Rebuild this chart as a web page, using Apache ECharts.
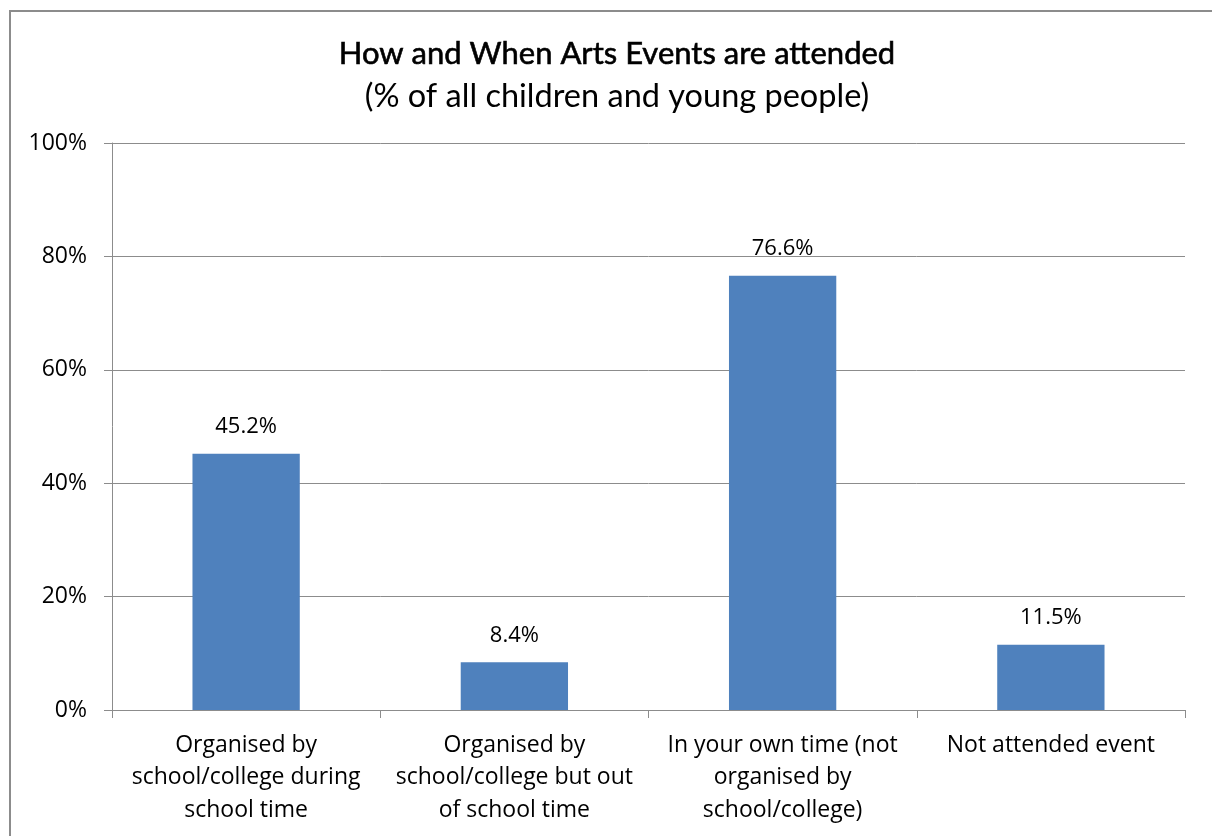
<!DOCTYPE html>
<html>
<head>
<meta charset="utf-8">
<script src="https://cdn.jsdelivr.net/npm/echarts@6/dist/echarts.min.js"></script>
<style>
  html, body { margin: 0; padding: 0; background: #fff; }
  #chart { width: 1212px; height: 836px; }
</style>
</head>
<body>
<div id="chart"></div>
<script>
// Attendance of arts events, % of all children and young people
const categories = [
  'Organised by\nschool/college during\nschool time',
  'Organised by\nschool/college but out\nof school time',
  'In your own time (not\norganised by\nschool/college)',
  'Not attended event'
];
const attendedPct = [45.2, 8.4, 76.6, 11.5];
const yTicks = [0, 20, 40, 60, 80, 100];

const chart = echarts.init(document.getElementById('chart'), null, { renderer: 'canvas' });

chart.setOption({
  backgroundColor: '#ffffff',
  animation: false,
  graphic: [{
    type: 'rect',
    shape: { x: 10, y: 11, width: 1212, height: 840 },
    style: { fill: 'none', stroke: '#8c8c8c', lineWidth: 2 },
    silent: true
  }],
  title: [{
    text: 'How and When Arts Events are attended',
    left: 612,
    textAlign: 'center',
    top: 32,
    textStyle: { fontFamily: 'Lato', fontSize: 31, fontWeight: 'normal', color: '#000', lineHeight: 34,
      textBorderColor: '#000', textBorderWidth: 0.6 }
  }, {
    text: '(% of all children and young people)',
    left: 612,
    textAlign: 'center',
    top: 75,
    textStyle: { fontFamily: 'Lato', fontSize: 32.5, fontWeight: 'normal', color: '#000', lineHeight: 34 }
  }],
  grid: { left: 112, right: 27, top: 143, bottom: 126, containLabel: false },
  xAxis: {
    type: 'category',
    data: categories,
    axisLine: { lineStyle: { color: '#8c8c8c', width: 1 } },
    axisTick: { show: true, length: 8, alignWithLabel: false, lineStyle: { color: '#8c8c8c' } },
    axisLabel: {
      interval: 0,
      margin: 19,
      fontFamily: 'Open Sans',
      fontSize: 23,
      lineHeight: 32.5,
      color: '#000'
    }
  },
  yAxis: {
    type: 'value',
    min: yTicks[0],
    max: yTicks[yTicks.length - 1],
    interval: 20,
    axisLine: { show: true, lineStyle: { color: '#8c8c8c', width: 1 } },
    axisTick: { show: true, length: 8, lineStyle: { color: '#8c8c8c' } },
    splitLine: { show: true, lineStyle: { color: '#8c8c8c', width: 1 } },
    axisLabel: {
      margin: 25,
      fontFamily: 'Open Sans',
      fontSize: 23,
      color: '#000',
      formatter: v => v + '%'
    }
  },
  series: [{
    type: 'bar',
    data: attendedPct,
    barWidth: '40%',
    itemStyle: { color: '#4f81bd' },
    label: {
      show: true,
      position: 'top',
      distance: 16,
      fontFamily: 'Open Sans',
      fontSize: 22,
      color: '#000',
      formatter: p => p.value.toFixed(1) + '%'
    }
  }]
});
</script>
</body>
</html>
